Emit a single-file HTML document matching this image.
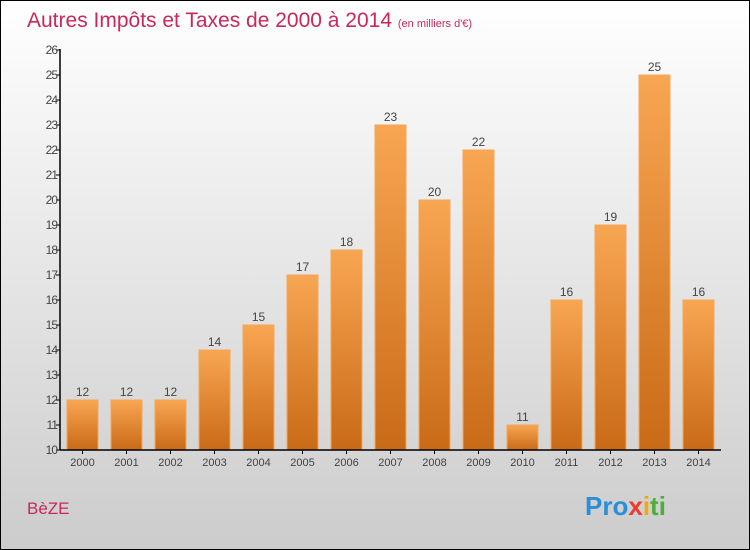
<!DOCTYPE html>
<html><head><meta charset="utf-8"><style>
body{margin:0}
#c{position:relative;width:748px;height:548px;border:1px solid #000;background:linear-gradient(#fff,#ccc);font-family:"Liberation Sans",sans-serif;overflow:hidden}
</style></head><body>
<div id="c">
<svg width="748" height="548" style="position:absolute;left:0;top:0" id="s">
<defs><linearGradient id="g" x1="0" y1="0" x2="0" y2="1"><stop offset="0" stop-color="#f8a652"/><stop offset="1" stop-color="#c96a17"/></linearGradient></defs>
<text x="26" y="26" font-size="21" fill="#c8285a">Autres Impôts et Taxes de 2000 à 2014 <tspan font-size="11">(en milliers d'€)</tspan></text>
<text x="26" y="513" font-size="17" fill="#c8285a">BèZE</text>
<text x="584" y="514" font-size="26" font-weight="bold"><tspan fill="#2a8fd6">Pro</tspan><tspan fill="#e83c2f">x</tspan><tspan fill="#f2a900">i</tspan><tspan fill="#4caf3c">ti</tspan></text>
<g id="plot"></g>
</svg>
</div>
<script>
const years=["2000","2001","2002","2003","2004","2005","2006","2007","2008","2009","2010","2011","2012","2013","2014"];
const values=[12,12,12,14,15,17,18,23,20,22,11,16,19,25,16];
const yTicks=[10,11,12,13,14,15,16,17,18,19,20,21,22,23,24,25,26];
const NS="http://www.w3.org/2000/svg";
const g=document.getElementById('plot');
const x0=59,yMin=10,yMax=26,yTop=49,yBot=449,step=44,first=81.5,bw=31;
const Y=v=>yBot-(v-yMin)/(yMax-yMin)*(yBot-yTop);
const X=i=>first+i*step;
function mk(t,a){const e=document.createElementNS(NS,t);for(const k in a)e.setAttribute(k,a[k]);g.appendChild(e);return e;}
yTicks.forEach(v=>{
 const l=mk('line',{x1:x0-4,x2:x0,y1:Y(v),y2:Y(v),stroke:'#000'});
 
 
 const t=mk('text',{x:x0-3,y:Y(v)+4,'text-anchor':'end','font-size':12,fill:'#444','letter-spacing':'-1'});
 t.textContent=v;
 
 
});
years.forEach((yr,i)=>{
 const v=values[i];
 const r=mk('rect',{x:X(i)-bw/2,y:Y(v),width:bw,height:yBot-Y(v),fill:'url(#g)',stroke:'#f5a55a','stroke-width':1});
 
 
 const t=mk('text',{x:X(i),y:Y(v)-4,'text-anchor':'middle','font-size':12,fill:'#444'});
 t.textContent=v;
 
 
 const k=mk('line',{x1:X(i),x2:X(i),y1:yBot,y2:yBot+4,stroke:'#000'});
 
 
 const xl=mk('text',{x:X(i),y:yBot+16,'text-anchor':'middle','font-size':11,fill:'#444'});
 xl.textContent=yr;
 
 
});
const ya=mk('line',{x1:x0,x2:x0,y1:yTop-1,y2:yBot,stroke:'#000','stroke-width':1.5});


const xa=mk('line',{x1:x0,x2:720,y1:yBot,y2:yBot,stroke:'#000','stroke-width':1.5});


</script>
</body></html>
